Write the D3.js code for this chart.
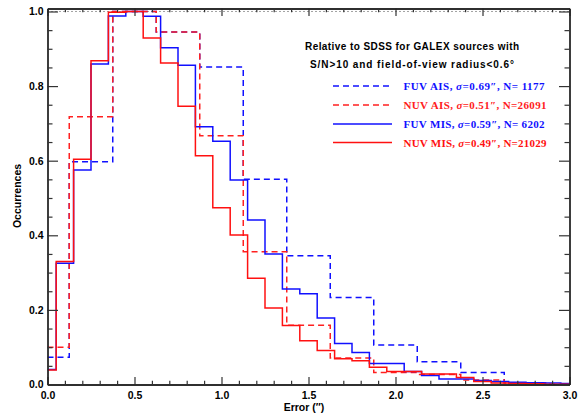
<!DOCTYPE html>
<html><head><meta charset="utf-8">
<script src="https://cdn.jsdelivr.net/npm/d3@7"></script>
<style>body{margin:0;background:#fff} svg{display:block}</style>
</head><body>
<svg id="c" width="579" height="415"></svg>
<script>
// ---- data ----
const misCenters = [0.0,0.1,0.2,0.3,0.4,0.5,0.6,0.7,0.8,0.9,1.0,1.1,1.2,1.3,1.4,1.5,1.6,1.7,1.8,1.9,2.0,2.1,2.2,2.3,2.4,2.5,2.6,2.7,2.8,2.9,3.0];
const aisCenters = [0.0,0.25,0.5,0.75,1.0,1.25,1.5,1.75,2.0,2.25,2.5,2.75,3.0];
const fuvMIS = [0.040,0.325,0.575,0.859,0.988,1.000,0.987,0.903,0.856,0.691,0.652,0.548,0.441,0.350,0.256,0.243,0.178,0.110,0.086,0.056,0.056,0.035,0.024,0.015,0.015,0.011,0.008,0.006,0.005,0.004,0.003];
const nuvMIS = [0.039,0.330,0.604,0.868,0.998,1.000,0.929,0.862,0.746,0.613,0.474,0.401,0.285,0.205,0.158,0.117,0.091,0.069,0.064,0.046,0.035,0.035,0.028,0.028,0.019,0.008,0.004,0.003,0.002,0.001,0.001];
const fuvAIS = [0.073,0.597,1.000,0.945,0.851,0.550,0.345,0.233,0.106,0.061,0.032,0.004,0.000];
const nuvAIS = [0.100,0.718,1.000,0.945,0.667,0.356,0.159,0.071,0.032,0.027,0.012,0.004,0.001];
const misBinWidth = 0.1;
const aisBinWidth = 0.25;
const xMajor = [0.0,0.5,1.0,1.5,2.0,2.5,3.0];
const xMinor = [0.1,0.2,0.3,0.4,0.6,0.7,0.8,0.9,1.1,1.2,1.3,1.4,1.6,1.7,1.8,1.9,2.1,2.2,2.3,2.4,2.6,2.7,2.8,2.9];
const yMajor = [0.0,0.2,0.4,0.6,0.8,1.0];
const yMinor = [0.05,0.1,0.15,0.25,0.3,0.35,0.45,0.5,0.55,0.65,0.7,0.75,0.85,0.9,0.95];
const titleLines = ["Relative to SDSS for GALEX sources with", "S/N>10 and field-of-view radius<0.6\u00B0"];
const legendNames = ["FUV AIS, ", "NUV AIS, ", "FUV MIS, ", "NUV MIS, "];
const legendSigma = ["=0.69\u2033, N= 1177", "=0.51\u2033, N=26091", "=0.59\u2033, N= 6202", "=0.49\u2033, N=21029"];
const xLabel = "Error (\u2033)";
const yLabel = "Occurrences";

// ---- setup ----
const svg = d3.select("#c");
const x = d3.scaleLinear().domain([0, 3]).range([47.5, 569.5]);
const y = d3.scaleLinear().domain([0, 1.008]).range([384.5, 8.5]);
const font = "'Liberation Sans', Arial, sans-serif";

svg.append("defs").append("clipPath").attr("id","clip")
  .append("rect").attr("x", x(0)).attr("y", y(1.008)).attr("width", x(3)-x(0)).attr("height", y(0)-y(1.008));

const series = [
  {centers: aisCenters, vals: fuvAIS, w: aisBinWidth, color: "#1010ff", dash: "6,4"},
  {centers: aisCenters, vals: nuvAIS, w: aisBinWidth, color: "#ff2020", dash: "6,4"},
  {centers: misCenters, vals: fuvMIS, w: misBinWidth, color: "#1010ff", dash: null},
  {centers: misCenters, vals: nuvMIS, w: misBinWidth, color: "#ff1010", dash: null}
];

function stepPoints(c, v, w) {
  const pts = [];
  const n = c.length;
  for (let i = 0; i < n; i++) {
    pts.push([i === 0 ? c[0] : c[i] - w/2, v[i]]);
    pts.push([i === n-1 ? c[i] : c[i] + w/2, v[i]]);
  }
  return pts;
}
const line = d3.line().x(d => x(d[0])).y(d => y(d[1]));

// dotted reference line at 1.0
svg.append("line").attr("x1", x(0)).attr("x2", x(3)).attr("y1", y(1)).attr("y2", y(1))
  .attr("stroke", "#444").attr("stroke-width", 1).attr("stroke-dasharray", "1,3");

const g = svg.append("g").attr("clip-path", "url(#clip)");
series.forEach(s => {
  g.append("path").attr("d", line(stepPoints(s.centers, s.vals, s.w)))
    .attr("fill", "none").attr("stroke", s.color).attr("stroke-width", 1.5)
    .attr("stroke-dasharray", s.dash);
});

// ---- axes ----
function styleAxis(sel) {
  sel.select(".domain").attr("stroke", "#222").attr("stroke-width", 1.3);
  sel.selectAll(".tick line").attr("stroke", "#333").attr("stroke-width", 1.2);
  sel.selectAll("text").attr("font-family", font).attr("font-weight", "bold").attr("font-size", "10.5px").attr("fill", "#000");
}
const fmt = d3.format(".1f");
svg.append("g").attr("transform", `translate(0,${y(0)})`)
  .call(d3.axisBottom(x).tickValues(xMajor).tickFormat(fmt).tickSize(-7.5).tickSizeOuter(0).tickPadding(7.5)).call(styleAxis);
svg.append("g").attr("transform", `translate(0,${y(0)})`)
  .call(d3.axisBottom(x).tickValues(xMinor).tickFormat("").tickSize(-3.8).tickSizeOuter(0)).call(styleAxis);
svg.append("g").attr("transform", `translate(0,${y(1.008)})`)
  .call(d3.axisTop(x).tickValues(xMajor).tickFormat("").tickSize(-7.5).tickSizeOuter(0)).call(styleAxis);
svg.append("g").attr("transform", `translate(0,${y(1.008)})`)
  .call(d3.axisTop(x).tickValues(xMinor).tickFormat("").tickSize(-3.8).tickSizeOuter(0)).call(styleAxis);

svg.append("g").attr("transform", `translate(${x(0)},0)`)
  .call(d3.axisLeft(y).tickValues(yMajor).tickFormat(fmt).tickSize(-10.5).tickSizeOuter(0).tickPadding(4)).call(styleAxis);
svg.append("g").attr("transform", `translate(${x(0)},0)`)
  .call(d3.axisLeft(y).tickValues(yMinor).tickFormat("").tickSize(-5).tickSizeOuter(0)).call(styleAxis);
svg.append("g").attr("transform", `translate(${x(3)},0)`)
  .call(d3.axisRight(y).tickValues(yMajor).tickFormat("").tickSize(-10.5).tickSizeOuter(0)).call(styleAxis);
svg.append("g").attr("transform", `translate(${x(3)},0)`)
  .call(d3.axisRight(y).tickValues(yMinor).tickFormat("").tickSize(-5).tickSizeOuter(0)).call(styleAxis);

// axis titles
svg.append("text").attr("x", 304).attr("y", 411).attr("text-anchor", "middle")
  .attr("font-family", font).attr("font-weight", "bold").attr("font-size", "10.5px").text(xLabel);
svg.append("text").attr("transform", "translate(20.5,196) rotate(-90)").attr("text-anchor", "middle")
  .attr("font-family", font).attr("font-weight", "bold").attr("font-size", "10.5px").text(yLabel);

// ---- title & legend ----
const titleY = [49.5, 67.5];
const titleW = [214, 204];
titleLines.forEach((t, i) => {
  svg.append("text").attr("x", 412).attr("y", titleY[i]).attr("text-anchor", "middle")
    .attr("font-family", font).attr("font-weight", "bold").attr("font-size", "10px")
    .attr("textLength", titleW[i]).attr("lengthAdjust", "spacing").text(t);
});
const legY = [86, 105, 124, 142.5];
series.forEach((s, i) => {
  svg.append("line").attr("x1", 333).attr("x2", 392).attr("y1", legY[i]).attr("y2", legY[i])
    .attr("stroke", s.color).attr("stroke-width", 1.5).attr("stroke-dasharray", s.dash);
  const t = svg.append("text").attr("x", 403.5).attr("y", legY[i] + 4)
    .attr("font-family", "'Liberation Serif', 'Times New Roman', serif").attr("font-weight", "bold")
    .attr("font-size", "11px").attr("fill", s.color)
    .attr("textLength", i % 2 === 0 ? 141 : 143).attr("lengthAdjust", "spacing");
  t.append("tspan").text(legendNames[i]);
  t.append("tspan").attr("font-style", "italic").text("\u03C3");
  t.append("tspan").text(legendSigma[i]);
});
</script>
</body></html>
